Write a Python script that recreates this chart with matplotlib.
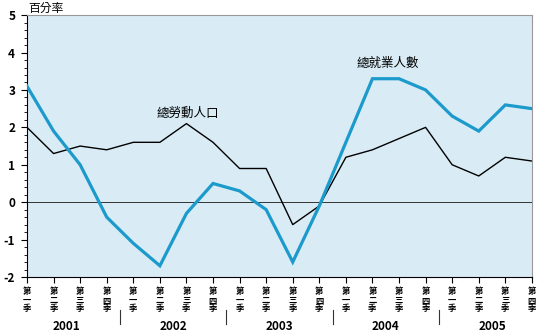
import matplotlib
matplotlib.use("Agg")
import matplotlib.pyplot as plt
from matplotlib.ticker import MultipleLocator

plt.rcParams['font.family'] = ['Noto Sans CJK TC', 'DejaVu Sans']
plt.rcParams['axes.unicode_minus'] = False

years = ["2001", "2002", "2003", "2004", "2005"]
quarters = ["第\n一\n季", "第\n二\n季", "第\n三\n季", "第\n四\n季"]
labour_force = [2.0, 1.3, 1.5, 1.4, 1.6, 1.6, 2.1, 1.6, 0.9, 0.9,
                -0.6, -0.1, 1.2, 1.4, 1.7, 2.0, 1.0, 0.7, 1.2, 1.1]
employment = [3.1, 1.9, 1.0, -0.4, -1.1, -1.7, -0.3, 0.5, 0.3, -0.2,
              -1.6, -0.1, 1.6, 3.3, 3.3, 3.0, 2.3, 1.9, 2.6, 2.5]
labour_label = "總勞動人口"
employment_label = "總就業人數"
y_title = "百分率"

n = len(labour_force)
x = list(range(n))
tick_labels = [quarters[i % 4] for i in x]

fig = plt.figure(figsize=(5.4, 3.34), dpi=100)
ax = fig.add_axes([0.05, 0.1707, 0.935, 0.784])
ax.set_facecolor("#d9ecf6")

ax.axhline(0, color="#333333", lw=0.7, zorder=1)
ax.plot(x, labour_force, color="black", lw=1.0, zorder=2)
ax.plot(x, employment, color="#1b9acb", lw=2.3, zorder=3,
        solid_joinstyle="miter")

ax.set_xlim(0, n - 1)
ax.set_ylim(-2, 5)

ax.yaxis.set_major_locator(MultipleLocator(1))
ax.yaxis.set_minor_locator(MultipleLocator(0.2))
ax.tick_params(axis="y", which="major", length=4.5, width=0.8,
               labelsize=8.5, pad=4)
ax.tick_params(axis="y", which="minor", length=2.5, width=0.6)
for lbl in ax.get_yticklabels():
    lbl.set_fontweight("bold")

ax.set_xticks(x)
ax.set_xticklabels(tick_labels, fontsize=6, linespacing=0.9,
                   fontweight="bold")
ax.tick_params(axis="x", length=4.5, width=0.8, pad=3)

for s in ("left", "bottom"):
    ax.spines[s].set_color("black")
    ax.spines[s].set_linewidth(0.8)
for s in ("top", "right"):
    ax.spines[s].set_color("#999999")
    ax.spines[s].set_linewidth(0.8)

# year labels and separators below quarter labels
trans = ax.get_xaxis_transform()
for i, yr in enumerate(years):
    start = i * 4
    ax.text(start + 1.5, -0.19, yr, transform=trans, ha="center",
            va="center", fontsize=8.5, fontweight="bold", clip_on=False)
    if i > 0:
        ax.plot([start - 0.5, start - 0.5], [-0.125, -0.178],
                transform=trans, color="#333333", lw=0.8, clip_on=False)

ax.text(6.05, 2.36, labour_label, ha="center", va="center", fontsize=9)
ax.text(13.57, 3.7, employment_label, ha="center", va="center", fontsize=9)

fig.text(0.052, 0.976, y_title, ha="left", va="center", fontsize=8.5)

fig.savefig("out.png", dpi=100)
